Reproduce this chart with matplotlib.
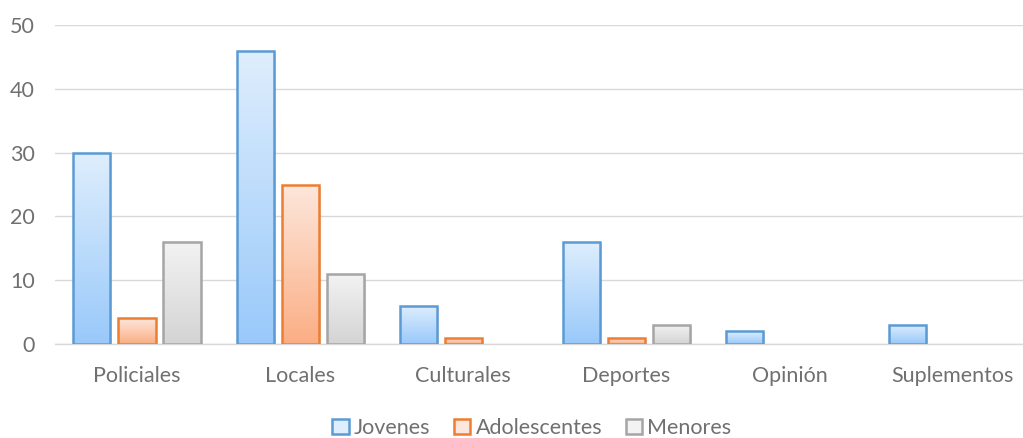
import matplotlib
matplotlib.use("Agg")
import matplotlib.pyplot as plt
import numpy as np
from matplotlib.colors import LinearSegmentedColormap
from matplotlib.patches import Patch
from matplotlib.legend_handler import HandlerPatch

categories = ["Policiales", "Locales", "Culturales", "Deportes", "Opinión", "Suplementos"]
series_names = ["Jovenes", "Adolescentes", "Menores"]
jovenes = [30, 46, 6, 16, 2, 3]
adolescentes = [4, 25, 1, 1, 0, 0]
menores = [16, 11, 0, 3, 0, 0]
yticks = [0, 10, 20, 30, 40, 50]

edge_colors = ["#5b9bd5", "#ed7d31", "#a5a5a5"]
grad = [("#dfeefd", "#99c9fa"), ("#fde7dc", "#fbae84"), ("#f3f3f3", "#d4d4d4")]
text_color = "#707070"

plt.rcParams['font.family'] = ['Lato', 'DejaVu Sans']
fig = plt.figure(figsize=(10.23, 4.38), dpi=100)
ax = fig.add_axes([55.4 / 1023, 1 - 344 / 438, 979 / 1023, 319 / 438])

x = np.arange(len(categories))
w = 0.227
step = 0.276
offsets = [-step, 0, step]
data = [jovenes, adolescentes, menores]

for i, vals in enumerate(data):
    lws = [1.8 if v > 0 else 0 for v in vals]
    bars = ax.bar(x + offsets[i], vals, width=w, facecolor="none",
                  edgecolor=edge_colors[i], linewidth=lws, zorder=3)
    cmap = LinearSegmentedColormap.from_list("g%d" % i, [grad[i][1], grad[i][0]])
    for b, v in zip(bars, vals):
        if v <= 0:
            continue
        x0, y0 = b.get_x(), b.get_y()
        bw, bh = b.get_width(), b.get_height()
        ax.bar(x0 + bw / 2 + 0.012, bh, width=bw, bottom=-0.35, color="#000000",
               alpha=0.12, linewidth=0, zorder=2)
        im = ax.imshow(np.linspace(0, 1, 256).reshape(-1, 1), cmap=cmap,
                       extent=[x0, x0 + bw, y0, y0 + bh], origin="lower",
                       aspect="auto", zorder=2.5)
        im.set_clip_path(b)

ax.set_xlim(-0.5, len(categories) - 0.5)
ax.set_ylim(0, 50)
ax.set_yticks(yticks)
ax.set_xticks(x)
ax.set_xticklabels(categories)
ax.yaxis.grid(True, color="#d9d9d9", linewidth=1.0, zorder=0)
ax.set_axisbelow(True)
for s in ["top", "right", "left"]:
    ax.spines[s].set_visible(False)
ax.spines["bottom"].set_color("#d9d9d9")
ax.spines["bottom"].set_linewidth(1.0)
ax.tick_params(axis="both", length=0, colors=text_color, labelsize=15.5)
ax.tick_params(axis="x", pad=16)
ax.tick_params(axis="y", pad=15)


class GradHandler(HandlerPatch):
    def __init__(self, idx):
        super().__init__()
        self.idx = idx

    def create_artists(self, legend, orig_handle, xdescent, ydescent, width,
                       height, fontsize, trans):
        p = plt.Rectangle((-xdescent, -ydescent), width, height,
                          facecolor=grad[self.idx][0], edgecolor=edge_colors[self.idx],
                          linewidth=1.8, transform=trans)
        return [p]


handles = [Patch(facecolor=grad[i][0], edgecolor=edge_colors[i]) for i in range(3)]
leg = fig.legend(handles, series_names, loc="center", ncol=3,
                 bbox_to_anchor=(532 / 1023, 1 - 428 / 438), frameon=False, fontsize=15.5,
                 handlelength=0.75, handleheight=0.75, handletextpad=0.25,
                 columnspacing=1.1,
                 handler_map={handles[i]: GradHandler(i) for i in range(3)})
for t in leg.get_texts():
    t.set_color(text_color)

fig.savefig("out.png", dpi=100)
